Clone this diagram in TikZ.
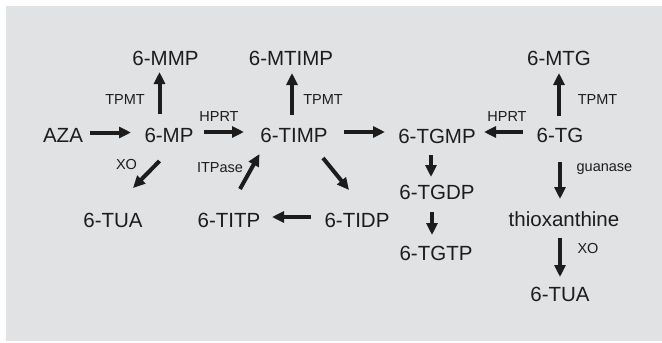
\documentclass[tikz,border=0pt]{standalone}
\usepackage{fontspec}
\setmainfont{Liberation Sans}
\usetikzlibrary{arrows.meta,calc}
\definecolor{bg}{HTML}{E1E2E4}
\definecolor{ink}{HTML}{1C1C1C}
\tikzset{
  met/.style={inner sep=0pt, text=ink, font=\fontsize{20.5}{24}\selectfont, text height=14.7pt, text depth=0pt},
  enz/.style={inner sep=0pt, text=ink, font=\fontsize{14.5}{17}\selectfont, text height=10.4pt, text depth=0pt},
  arr/.style={draw=ink, line width=4pt, -{Triangle[length=12pt,width=11pt]}}
}
\begin{document}
\begin{tikzpicture}[x=1pt,y=-1pt]
\useasboundingbox (0,0) rectangle (662,343);
\fill[bg] (6,6) rectangle (662,341);
% metabolites
\node[met] (aza)   at (63,135)  {AZA};
\node[met] (mp)    at (169,135) {6-MP};
\node[met] (mmp)   at (165.5,58) {6-MMP};
\node[met] (tua1)  at (113,220) {6-TUA};
\node[met] (timp)  at (294,135) {6-TIMP};
\node[met] (mtimp) at (291,58)  {6-MTIMP};
\node[met] (titp)  at (229,220) {6-TITP};
\node[met] (tidp)  at (357,220) {6-TIDP};
\node[met] (tgmp)  at (437,136) {6-TGMP};
\node[met] (tgdp)  at (437,192) {6-TGDP};
\node[met] (tgtp)  at (436,253) {6-TGTP};
\node[met] (tg)    at (560,135) {6-TG};
\node[met] (mtg)   at (559,58)  {6-MTG};
\node[met] (thiox) at (564,219) {thioxanthine};
\node[met] (tua2)  at (560,294) {6-TUA};
% enzymes
\node[enz] (e1) at (125,99)    {TPMT};
\node[enz] (e2) at (219,116)   {HPRT};
\node[enz] (e3) at (126.5,164) {XO};
\node[enz] (e4) at (220,167)   {ITPase};
\node[enz] (e5) at (323,99)    {TPMT};
\node[enz] (e6) at (507,116)   {HPRT};
\node[enz] (e7) at (597.5,99)  {TPMT};
\node[enz] (e8) at (604.5,166) {guanase};
\node[enz] (e9) at (588,248)   {XO};
% arrows
\draw[arr] ($(aza)+(27,-2.5)$) -- ($(mp)+(-38,-2.5)$);
\draw[arr] ($(mp)+(35,-3)$) -- ($(timp)+(-50,-3)$);
\draw[arr] ($(timp)+(50,-3)$) -- ($(tgmp)+(-52,-4)$);
\draw[arr] ($(tg)+(-37,-3)$) -- ($(tgmp)+(47,-4)$);
\draw[arr] ($(tidp)+(-46,-3)$) -- ($(titp)+(43,-3)$);
\draw[arr] ($(mp)+(-9.5,-21)$) -- ($(mmp)+(-6,14)$);
\draw[arr] ($(mp)+(-9.5,26)$) -- ($(tua1)+(20,-32)$);
\draw[arr] ($(timp)+(29,23)$) -- ($(tidp)+(-8,-30)$);
\draw[arr] ($(titp)+(11,-31)$) -- ($(timp)+(-34.5,19)$);
\draw[arr] ($(timp)+(-2,-20)$) -- ($(mtimp)+(1,15)$);
\draw[arr] ($(tg)+(-1,-19)$) -- ($(mtg)+(0,15)$);
\draw[arr] ($(tg)+(0,27)$) -- ($(thiox)+(-4,-20)$);
\draw[arr] ($(thiox)+(-4,19)$) -- ($(tua2)+(0,-17)$);
\draw[arr] ($(tgmp)+(-6,19)$) -- ($(tgdp)+(-6,-15)$);
\draw[arr] ($(tgdp)+(-5,20)$) -- ($(tgtp)+(-4,-18)$);
\end{tikzpicture}
\end{document}
